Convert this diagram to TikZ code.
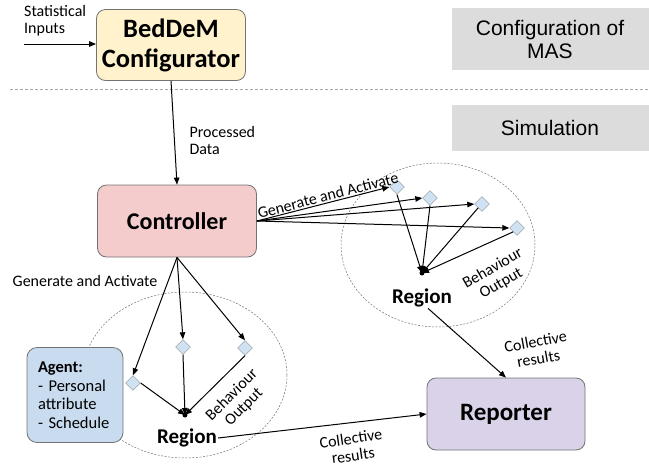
\documentclass[tikz,border=0pt]{standalone}
\usepackage{fontspec}
\setmainfont{Carlito}
\newfontfamily\phasefont{Liberation Sans}
\usetikzlibrary{shapes.geometric}
\usetikzlibrary{arrows.meta}
\usetikzlibrary{calc}

\definecolor{cfgyellow}{HTML}{FFF2CC}
\definecolor{ctrlpink}{HTML}{F4CCCC}
\definecolor{agentblue}{HTML}{C9DBEF}
\definecolor{reppurple}{HTML}{D9D2E9}
\definecolor{phasegray}{HTML}{DCDCDC}
\definecolor{dmdblue}{HTML}{CFE2F3}

\begin{document}
\begin{tikzpicture}[x=1pt, y=-1pt,
    box/.style={rounded corners=9pt, draw=black!55, line width=0.8pt, minimum width=158pt, minimum height=72pt, align=center, font=\fontsize{24}{27}\selectfont\bfseries},
    phase/.style={fill=phasegray, minimum width=197pt, align=center, font=\phasefont\fontsize{21}{23}\selectfont},
    dmd/.style={diamond, draw=black!45, fill=dmdblue, minimum size=15pt, inner sep=0pt},
    hub/.style={circle, fill=black, inner sep=0pt, minimum size=5pt},
    flow/.style={-{Triangle[length=7pt,width=5.5pt]}, line width=1pt},
    tag/.style={font=\fontsize{16}{17}\selectfont, align=left, inner sep=1pt},
    regname/.style={font=\fontsize{21}{24}\selectfont\bfseries, inner sep=1pt},
    zone/.style={draw=black!55, dashed, dash pattern=on 2pt off 1.5pt, line width=0.5pt}]
        \useasboundingbox (0,0) rectangle (649,467);

        % Phases on the right
        \node[phase, minimum height=62pt] (mas) at (550,39) {Configuration of\\MAS};
        \node[phase, minimum height=46pt] (sim) at (550,128) {Simulation};
        \draw[black!35, dash pattern=on 3pt off 2pt, line width=0.9pt] (10,89) -- (649,89);

        % Main boxes
        \node[box, fill=cfgyellow, minimum width=149pt, minimum height=71pt, font=\fontsize{26.5}{30}\selectfont\bfseries] (cfg) at (171,45) {BedDeM\\Configurator};
        \node[box, fill=ctrlpink, minimum width=159pt] (ctrl) at (177,221) {Controller};
        \node[box, fill=reppurple, font=\fontsize{25}{28}\selectfont\bfseries] (rep) at (506,414) {Reporter};

        % Inputs and processed data
        \coordinate (in) at (24,44);
        \node[tag, anchor=north west] (stat) at (23,4) {Statistical\\Inputs};
        \draw[flow] (in) -- (cfg.west |- in);
        \draw[flow] (cfg.south) -- (ctrl.north) node[tag, midway, right, xshift=14pt, yshift=-8pt] {Processed\\Data};

        % Upper region
        \draw[zone] (438,245) ellipse [x radius=97pt, y radius=82pt];
        \node[hub] (h1) at (422,273) {};
        \node[regname] (reg1) at (422,298) {Region};
        \node[dmd] (u1) at (397,187) {};
        \node[dmd] (u2) at (430,198) {};
        \node[dmd] (u3) at (482,204) {};
        \node[dmd] (u4) at (517,228) {};
        \draw[flow] (ctrl.east) -- (u1.west) node[tag, pos=0.55, above, sloped] {Generate and Activate};
        \foreach \d in {u2,u3,u4}
          \draw[flow] (ctrl.east) -- (\d.west);
        \draw[flow] (u1.south) -- (h1.center);
        \draw[flow] (u2.south) -- (h1.center);
        \draw[flow] (u3.south west) -- (h1.center);
        \draw[flow] (u4.south west) -- (h1.center);
        \node[tag, align=center, rotate=30] (beh1) at (497,276) {Behaviour\\Output};

        % Lower region
        \draw[zone] (185,375) ellipse [x radius=102pt, y radius=83pt];
        \node[box, fill=agentblue, minimum width=96pt, minimum height=95pt, rounded corners=10pt, text width=74pt, align=left, font=\fontsize{16.5}{18.5}\selectfont] (agent) at (75,395) {\textbf{Agent:}\\- Personal\\attribute\\- Schedule};
        \node[hub] (h2) at (185,415) {};
        \node[regname] (reg2) at (187,438) {Region};
        \node[dmd] (l1) at (133,383) {};
        \node[dmd] (l2) at (183,347) {};
        \node[dmd] (l3) at (245,348) {};
        \node[tag] (gen2) at (85,281) {Generate and Activate};
        \foreach \d in {l1,l2,l3}
          \draw[flow] (ctrl.south) -- (\d.north);
        \draw[flow] (l1.east) -- (h2.center);
        \draw[flow] (l2.south) -- (h2.center);
        \draw[flow] (l3.south) -- (h2.center);
        \node[tag, align=center, rotate=45] (beh2) at (238,401) {Behaviour\\Output};

        % Results to the reporter
        \draw[flow] (reg1.-60) -- (rep.north) node[tag, align=center, rotate=10] at (537,350) {Collective\\results};
        \draw[flow] (reg2.east) -- (rep.west) node[tag, align=center, rotate=8] at (352,447) {Collective\\results};
      \end{tikzpicture}
\end{document}
